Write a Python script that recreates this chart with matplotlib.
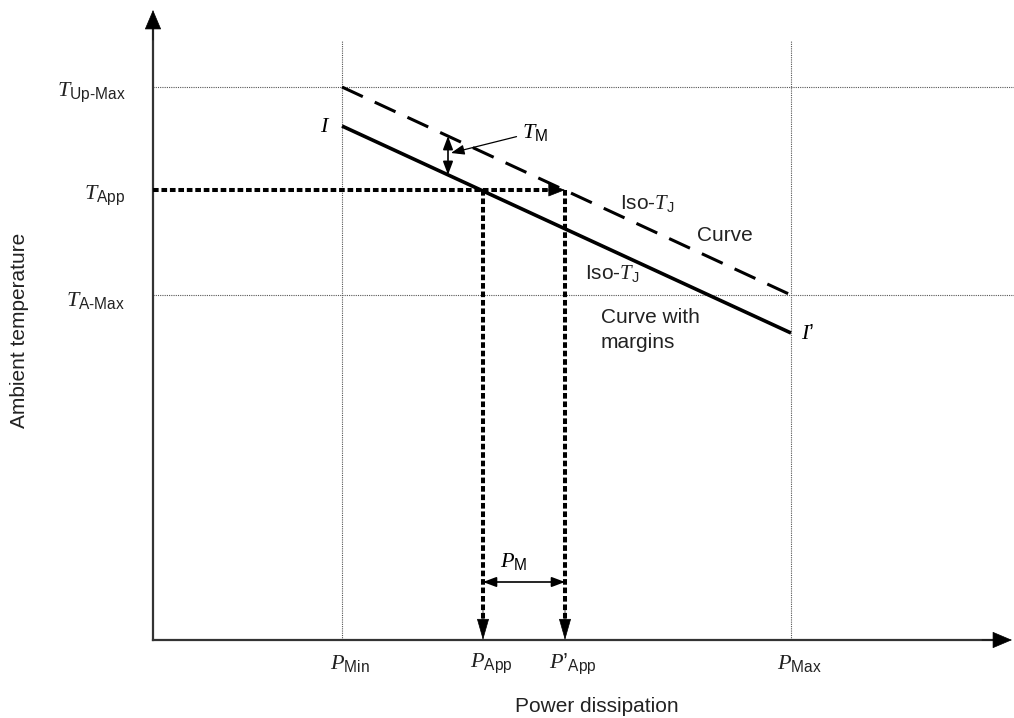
import matplotlib
import matplotlib.pyplot as plt

matplotlib.use('Agg')

plt.rcParams['font.family'] = ['Liberation Sans', 'DejaVu Sans']
plt.rcParams['mathtext.fontset'] = 'custom'
plt.rcParams['mathtext.rm'] = 'Liberation Sans'
plt.rcParams['mathtext.sf'] = 'Liberation Sans'
plt.rcParams['mathtext.it'] = 'Liberation Serif:italic'

# power levels (x) and temperature levels (y), arbitrary units
p_levels = [1.89, 3.30, 4.12, 6.38]
p_labels = [r'$\mathit{P}_{\text{Min}}$', r'$\mathit{P}_{\text{App}}$',
            r'$\mathit{P’}_{\text{App}}$', r'$\mathit{P}_{\text{Max}}$']
t_levels = [5.53, 4.50, 3.45]
t_labels = [r'$\mathit{T}_{\text{Up-Max}}$', r'$\mathit{T}_{\text{App}}$',
            r'$\mathit{T}_{\text{A-Max}}$']

# iso-Tj curves
iso_p = [1.89, 6.38]
iso_t = [5.53, 3.45]
marg_p = [1.89, 6.38]
marg_t = [5.14, 3.07]

x_end, y_end = 8.59, 6.30
grid_top = 6.00
p_min, p_app, p_app2, p_max = p_levels
t_up, t_app, t_amax = t_levels

tm_x = 2.95
pm_y = 0.58


def iso_at(x, ps, ts):
    return ts[0] + (ts[1] - ts[0]) * (x - ps[0]) / (ps[1] - ps[0])


fig = plt.figure(figsize=(10.14, 7.18), dpi=100)
ax = fig.add_axes([0, 0, 1, 1])
ax.set_xlim(-1.53, 8.61)
ax.set_ylim(-0.78, 6.40)
ax.axis('off')

# thin dotted guide lines
grid_kw = dict(color='#555555', lw=0.8, ls=(0, (1, 1)))
ax.plot([0, 8.61], [t_up, t_up], **grid_kw)
ax.plot([0, 8.61], [t_amax, t_amax], **grid_kw)
ax.plot([p_min, p_min], [0, grid_top], **grid_kw)
ax.plot([p_max, p_max], [0, grid_top], **grid_kw)

# axes with arrows
ax.plot([0, x_end - 0.1], [0, 0], color='#333333', lw=1.6)
ax.plot([0, 0], [0, y_end - 0.1], color='#333333', lw=1.6)
head = dict(arrowstyle='-|>,head_length=13,head_width=5.5', color='k',
            lw=0.5, shrinkA=0, shrinkB=0, mutation_scale=1)
ax.annotate('', xy=(x_end, 0), xytext=(x_end - 0.3, 0), arrowprops=head)
ax.annotate('', xy=(0, y_end), xytext=(0, y_end - 0.3), arrowprops=head)

# curves
ax.plot(iso_p, iso_t, color='k', lw=2.2, ls=(0, (7.5, 4.3)))
ax.plot(marg_p, marg_t, color='k', lw=2.6, solid_capstyle='butt')

# thick dotted construction lines with arrows
dot_kw = dict(color='k', lw=2.9, ls=(0, (1.4, 0.7)))
tip = dict(arrowstyle='-|>,head_length=11,head_width=4.3', color='k',
           lw=0.5, shrinkA=0, shrinkB=0, mutation_scale=1)
ax.plot([0, p_app2 - 0.12], [t_app, t_app], **dot_kw)
ax.annotate('', xy=(p_app2, t_app), xytext=(p_app2 - 0.2, t_app), arrowprops=tip)
drop = dict(arrowstyle='-|>,head_length=14,head_width=4', color='k',
            lw=0.5, shrinkA=0, shrinkB=0, mutation_scale=1)
for px in (p_app, p_app2):
    ax.plot([px, px], [t_app, 0.18], **dot_kw)
    ax.annotate('', xy=(px, 0), xytext=(px, 0.3), arrowprops=drop)

# margins
dbl = dict(arrowstyle='<|-|>,head_length=8,head_width=3', color='k',
           lw=1.2, shrinkA=0, shrinkB=0, mutation_scale=1)
ax.annotate('', xy=(tm_x, iso_at(tm_x, iso_p, iso_t)),
            xytext=(tm_x, iso_at(tm_x, marg_p, marg_t)), arrowprops=dbl)
ax.annotate('', xy=(p_app, pm_y), xytext=(p_app2, pm_y), arrowprops=dbl)
ax.annotate(r'$\mathit{T}_{\text{M}}$', xy=(tm_x + 0.03, 4.87),
            xytext=(3.69, 5.08), fontsize=16, va='center', ha='left',
            arrowprops=dict(arrowstyle='-|>,head_length=8,head_width=3',
                            color='k', lw=0.9, shrinkA=2, shrinkB=0,
                            mutation_scale=1))
ax.text(3.61, 0.78, r'$\mathit{P}_{\text{M}}$', fontsize=16,
        ha='center', va='center')

# tick labels
for t, lab in zip(t_levels, t_labels):
    ax.annotate(lab, xy=(0, t), xytext=(-20, -4), textcoords='offset points',
                fontsize=16, ha='right', va='center', color='#222222')
for p, lab in zip(p_levels, p_labels):
    ax.annotate(lab, xy=(p, 0), xytext=(6, -17), textcoords='offset points',
                fontsize=16, ha='center', va='center', color='#222222')

# curve labels
ax.text(marg_p[0] - 0.12, marg_t[0], r'$\mathit{I}$', fontsize=16,
        ha='right', va='center')
ax.text(marg_p[1] + 0.1, marg_t[1], r'$\mathit{I’}$', fontsize=16,
        ha='left', va='center')
ax.text(4.67, 4.37, r'Iso-$\mathit{T}_{\text{J}}$', fontsize=15, va='center',
        color='#222222')
ax.text(5.44, 4.05, 'Curve', fontsize=15, va='center', color='#222222')
ax.text(4.32, 3.67, r'Iso-$\mathit{T}_{\text{J}}$', fontsize=15, va='center',
        color='#222222')
ax.text(4.48, 3.10, 'Curve with\nmargins', fontsize=15, va='center',
        ha='left', linespacing=1.35, color='#222222')

ax.text(4.44, -0.67, 'Power dissipation', fontsize=15, ha='center',
        va='center', color='#222222')
ax.text(-1.33, 3.10, 'Ambient temperature', fontsize=15, ha='center',
        va='center', rotation=90, color='#222222')

fig.savefig('out.png', dpi=100)
